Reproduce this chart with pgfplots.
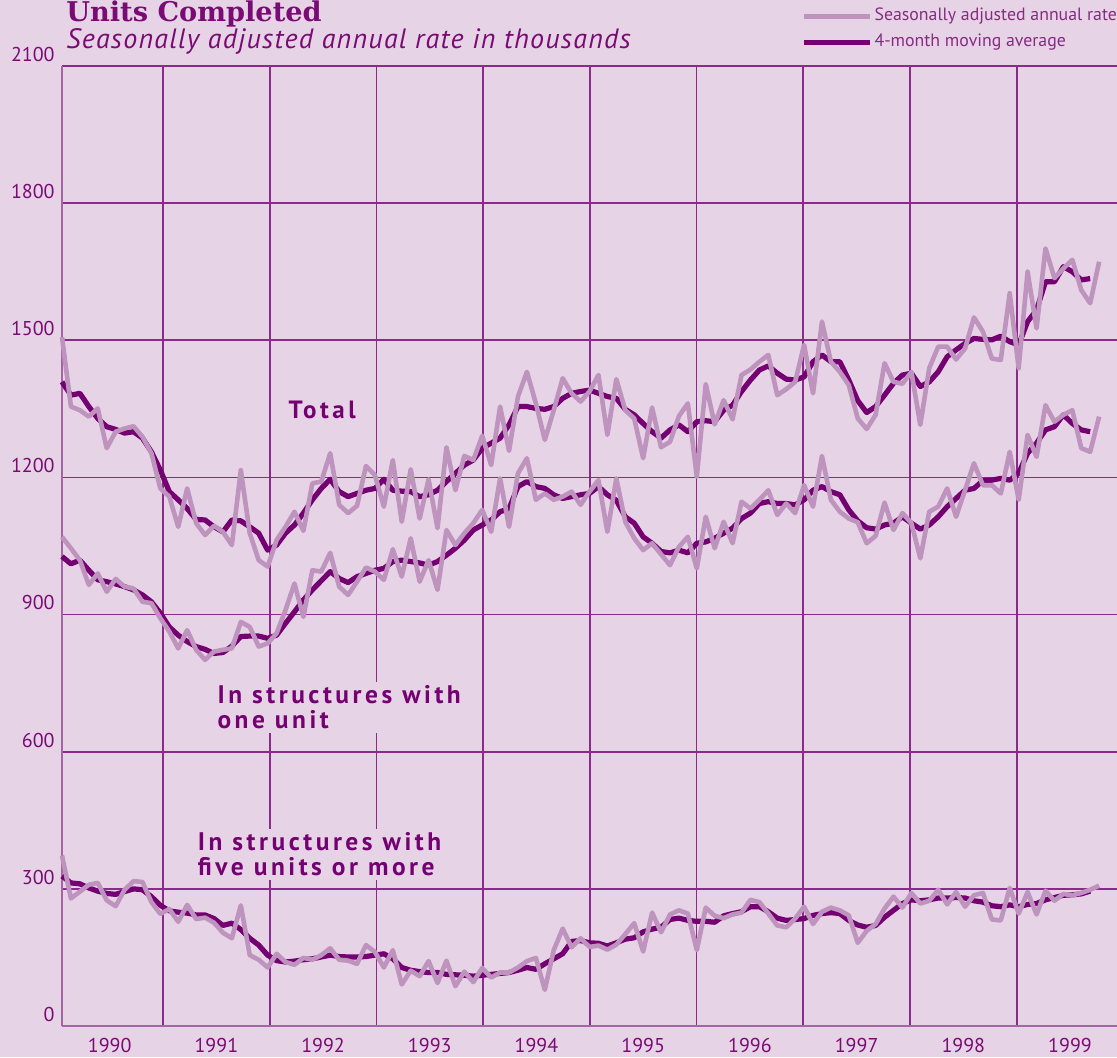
\documentclass[border=0pt]{standalone}
\usepackage{pgfplots}
\pgfplotsset{compat=1.18}
\usepackage{pgfplotstable}
\usepackage{fontspec}
\setmainfont{PT Sans}
\newfontfamily\titlefont{DejaVu Serif}
\newfontfamily\subfont[LetterSpace=4.5]{PT Sans}
\newfontfamily\lblfont[LetterSpace=14.0]{PT Sans}
\definecolor{bg}{HTML}{E6D4E6}
\definecolor{lightc}{HTML}{BE93BE}
\definecolor{darkc}{HTML}{750072}
\definecolor{gridc}{HTML}{8C2A8C}
\definecolor{axisc}{HTML}{A565A5}
\definecolor{txt}{HTML}{7A0A74}
\definecolor{legtxt}{HTML}{862A82}

\pgfplotstableread{
m totSA totMA oneSA oneMA fiveSA fiveMA
0 1507 1409 1070 1027 373 328
1 1355 1380 1045 1011 279 313
2 1347 1384 1019 1019 294 311
3 1333 1355 965 997 309 302
4 1351 1329 990 976 313 295
5 1264 1311 950 972 275 290
6 1300 1305 978 967 262 288
7 1307 1297 961 961 298 294
8 1312 1300 957 954 317 300
9 1289 1286 928 943 315 298
10 1253 1256 925 928 271 283
11 1176 1216 892 903 245 264
12 1158 1169 863 873 256 252
13 1092 1151 826 855 228 249
14 1176 1132 866 841 265 247
15 1100 1108 823 830 234 243
16 1074 1107 801 824 237 243
17 1094 1092 819 815 226 235
18 1081 1081 823 817 204 220
19 1052 1107 826 831 192 225
20 1216 1105 884 852 264 211
21 1078 1092 873 853 155 192
22 1019 1078 830 853 145 177
23 1005 1041 837 848 128 155
24 1063 1052 859 855 158 143
25 1092 1078 910 881 140 140
26 1125 1096 968 906 134 142
27 1083 1122 895 932 149 145
28 1187 1151 997 954 145 147
29 1191 1176 994 974 155 151
30 1253 1196 1035 994 170 155
31 1140 1169 961 979 145 152
32 1122 1158 943 970 143 151
33 1138 1165 972 983 136 151
34 1225 1172 1003 990 177 152
35 1205 1176 994 997 162 155
36 1136 1196 976 1001 128 158
37 1238 1172 1043 1016 166 147
38 1103 1170 983 1019 91 128
39 1218 1169 1067 1016 121 122
40 1110 1158 972 1013 109 119
41 1196 1162 1019 1008 142 117
42 1089 1172 954 1016 94 117
43 1266 1191 1085 1030 143 113
44 1172 1209 1052 1045 87 112
45 1247 1227 1078 1063 119 111
46 1238 1238 1100 1085 96 109
47 1291 1264 1129 1096 127 111
48 1227 1275 1081 1107 106 113
49 1355 1286 1198 1125 117 115
50 1258 1315 1092 1132 117 117
51 1377 1355 1209 1180 128 122
52 1431 1355 1242 1191 142 128
53 1362 1351 1151 1180 149 124
54 1282 1349 1165 1176 79 136
55 1347 1355 1151 1162 166 147
56 1417 1373 1158 1154 213 158
57 1384 1384 1169 1158 172 185
58 1366 1388 1140 1162 192 187
59 1388 1391 1169 1165 173 182
60 1424 1384 1194 1180 176 181
61 1293 1377 1081 1162 167 175
62 1415 1373 1198 1150 178 182
63 1347 1349 1103 1114 201 190
64 1329 1337 1067 1100 225 193
65 1242 1318 1041 1070 163 206
66 1353 1300 1056 1056 248 212
67 1266 1286 1032 1038 205 216
68 1278 1304 1008 1035 244 233
69 1334 1315 1048 1041 253 236
70 1362 1300 1070 1035 246 231
71 1202 1322 1001 1056 166 229
72 1404 1324 1114 1059 259 229
73 1316 1322 1045 1067 241 227
74 1369 1347 1103 1078 236 241
75 1327 1358 1056 1089 244 246
76 1424 1388 1147 1110 248 250
77 1436 1413 1132 1122 276 261
78 1453 1435 1151 1143 271 261
79 1468 1444 1172 1147 246 250
80 1380 1428 1118 1143 220 236
81 1393 1415 1143 1143 216 231
82 1409 1413 1122 1140 235 233
83 1490 1420 1183 1151 261 235
84 1384 1453 1136 1172 223 242
85 1541 1468 1247 1180 250 246
86 1453 1453 1151 1169 259 248
87 1431 1453 1125 1162 253 246
88 1402 1413 1110 1129 242 231
89 1329 1368 1102 1105 182 221
90 1306 1342 1056 1090 208 216
91 1337 1355 1072 1087 223 220
92 1450 1380 1145 1096 257 238
93 1409 1406 1085 1100 283 253
94 1405 1424 1122 1114 259 268
95 1431 1428 1100 1100 291 276
96 1315 1399 1023 1087 268 274
97 1439 1409 1125 1096 274 276
98 1486 1431 1136 1114 298 280
99 1486 1464 1176 1136 266 280
100 1458 1479 1114 1154 293 281
101 1482 1493 1172 1172 261 280
102 1550 1504 1231 1176 286 274
103 1519 1502 1183 1193 291 271
104 1460 1501 1183 1194 233 263
105 1457 1509 1165 1198 231 261
106 1603 1497 1256 1194 302 265
107 1439 1490 1151 1209 246 261
108 1650 1541 1293 1253 293 266
109 1526 1566 1245 1275 244 268
110 1701 1628 1358 1304 296 276
111 1636 1628 1322 1311 274 281
112 1657 1661 1337 1337 289 286
113 1676 1650 1347 1318 286 287
114 1610 1632 1264 1304 291 289
115 1581 1635 1256 1300 298 295
116 1672 nan 1333 nan 307 nan
}\data

\begin{document}
\begin{tikzpicture}[x=1pt,y=1pt]
\path[use as bounding box] (0,0) rectangle (558.5,528.5);
\fill[bg] (0,0) rectangle (558.5,528.5);
\node[anchor=base west, inner sep=0pt, font=\titlefont\bfseries\fontsize{13.6}{13.6}\selectfont, text=txt] at (33,517.5) {Units Completed};
\node[anchor=base west, inner sep=0pt, font=\subfont\itshape\fontsize{14}{14}\selectfont, text=txt] at (33,504.3) {Seasonally adjusted annual rate in thousands};
\begin{axis}[
  at={(31pt,15.5pt)}, anchor=south west,
  scale only axis, width=527.5pt, height=480pt,
  xmin=0, xmax=118, ymin=0, ymax=2100,
  axis lines=left,
  axis line style={-, draw=axisc, line width=1.2pt},
  xtick={11.3,23.235,35.17,47.105,59.04,70.975,82.91,94.845,106.78},
  xticklabels={},
  extra x ticks={5.33,17.265,29.2,41.135,53.07,65.005,76.94,88.875,100.81,112.745},
  extra x tick labels={1990,1991,1992,1993,1994,1995,1996,1997,1998,1999},
  extra x tick style={grid=none},
  ytick={0,300,600,900,1200,1500,1800,2100},
  yticklabels={0,300,600,900,1200,1500,1800,2100},
  grid=major,
  major grid style={draw=gridc, line width=0.8pt},
  major tick length=0pt,
  tick style={draw=none},
  yticklabel style={anchor=south east, inner sep=0pt, xshift=-3.5pt, yshift=2pt, font=\fontsize{10}{10}\selectfont, text=txt},
  xticklabel style={anchor=north, inner sep=0pt, yshift=-6pt, font=\fontsize{10}{10}\selectfont, text=txt},
  clip=false,
  reverse legend,
  legend style={at={(0.6948,1.0675)}, anchor=north west, draw=none, fill=none,
    font=\fontsize{8.9}{8.9}\selectfont, text=legtxt, row sep=2pt,
    nodes={inner sep=1pt, text height=6.5pt, text depth=2.5pt}},
  legend cell align=left,
  legend image code/.code={\draw[#1, line cap=round] (1.5pt,0pt) -- (29.5pt,0pt); \path (0pt,0pt) -- (33pt,0pt);},
]
\addplot[darkc, line width=2.6pt, line join=round] table[x=m, y=totMA] {\data};
\addlegendentry{4-month moving average}
\addplot[lightc, line width=2.3pt, line join=round] table[x=m, y=totSA] {\data};
\addlegendentry{Seasonally adjusted annual rate}
\addplot[darkc, line width=2.6pt, line join=round, forget plot] table[x=m, y=oneMA] {\data};
\addplot[lightc, line width=2.3pt, line join=round, forget plot] table[x=m, y=oneSA] {\data};
\addplot[darkc, line width=2.6pt, line join=round, forget plot] table[x=m, y=fiveMA] {\data};
\addplot[lightc, line width=2.3pt, line join=round, forget plot] table[x=m, y=fiveSA] {\data};
\node[font=\lblfont\bfseries\fontsize{12.5}{12.5}\selectfont, text=darkc, fill=bg, inner sep=2pt] at (axis cs:29.1,1347) {Total};
\node[font=\lblfont\bfseries\fontsize{12.7}{12.5}\selectfont, text=darkc, fill=bg, inner sep=2pt, anchor=north west, align=left] at (axis cs:16.9,754) {In structures with\\one unit};
\node[font=\lblfont\bfseries\fontsize{12.7}{12.5}\selectfont, text=darkc, fill=bg, inner sep=2pt, anchor=north west, align=left] at (axis cs:14.7,432) {In structures with\\five units or more};
\end{axis}
\end{tikzpicture}
\end{document}
